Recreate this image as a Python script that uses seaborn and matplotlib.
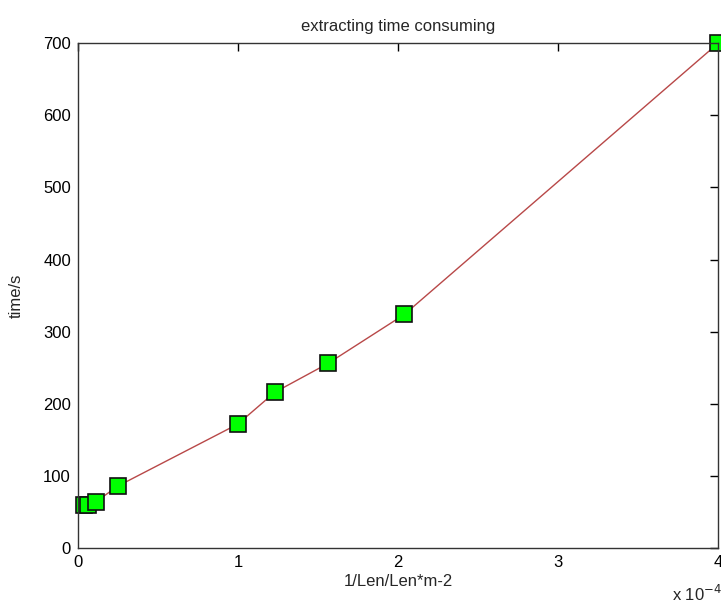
import numpy as np
import pandas as pd
import matplotlib
matplotlib.use('Agg')
import matplotlib.pyplot as plt
import seaborn as sns
from matplotlib.ticker import FuncFormatter

# data (x = 1/Len^2)
inv_len_sq = [0.04e-4, 0.0625e-4, 0.111e-4, 0.25e-4, 1.0e-4, 1.23e-4, 1.5625e-4, 2.04e-4, 4.0e-4]
time_s = [60, 60, 64, 86, 172, 216, 256, 324, 700]

df = pd.DataFrame({'x': inv_len_sq, 't': time_s})

sns.set_style('white')
plt.rcParams['font.family'] = ['Liberation Sans', 'DejaVu Sans']

fig = plt.figure(figsize=(7.21, 6.09), dpi=100)
ax = fig.add_axes([0.108, 0.100, 0.888, 0.829])

sns.lineplot(data=df, x='x', y='t', ax=ax, color='#b84848', linewidth=1,
             marker='s', markersize=12, markerfacecolor='#00ff00',
             markeredgecolor='#111111', markeredgewidth=1.2, clip_on=False,
             sort=False)

ax.set_xlim(0, 4e-4)
ax.set_ylim(0, 700)
ax.set_xticks([0, 1e-4, 2e-4, 3e-4, 4e-4])
ax.set_yticks(range(0, 701, 100))
ax.xaxis.set_major_formatter(FuncFormatter(lambda v, p: '%g' % round(v / 1e-4, 6)))

ax.tick_params(direction='in', length=6, width=1, top=True, right=True,
               labelsize=12, colors='black', pad=5)
for s in ax.spines.values():
    s.set_color('#333333')
    s.set_linewidth(1)
    s.set_visible(True)

ax.set_title('extracting time consuming', fontsize=12, pad=9)
ax.set_xlabel('1/Len/Len*m-2', fontsize=12, labelpad=3)
ax.set_ylabel('time/s', fontsize=12, labelpad=14)
ax.text(0.928, -0.09, 'x 10$^{-4}$', transform=ax.transAxes, fontsize=12,
        ha='left', va='center')

fig.savefig('out.png', dpi=100)
